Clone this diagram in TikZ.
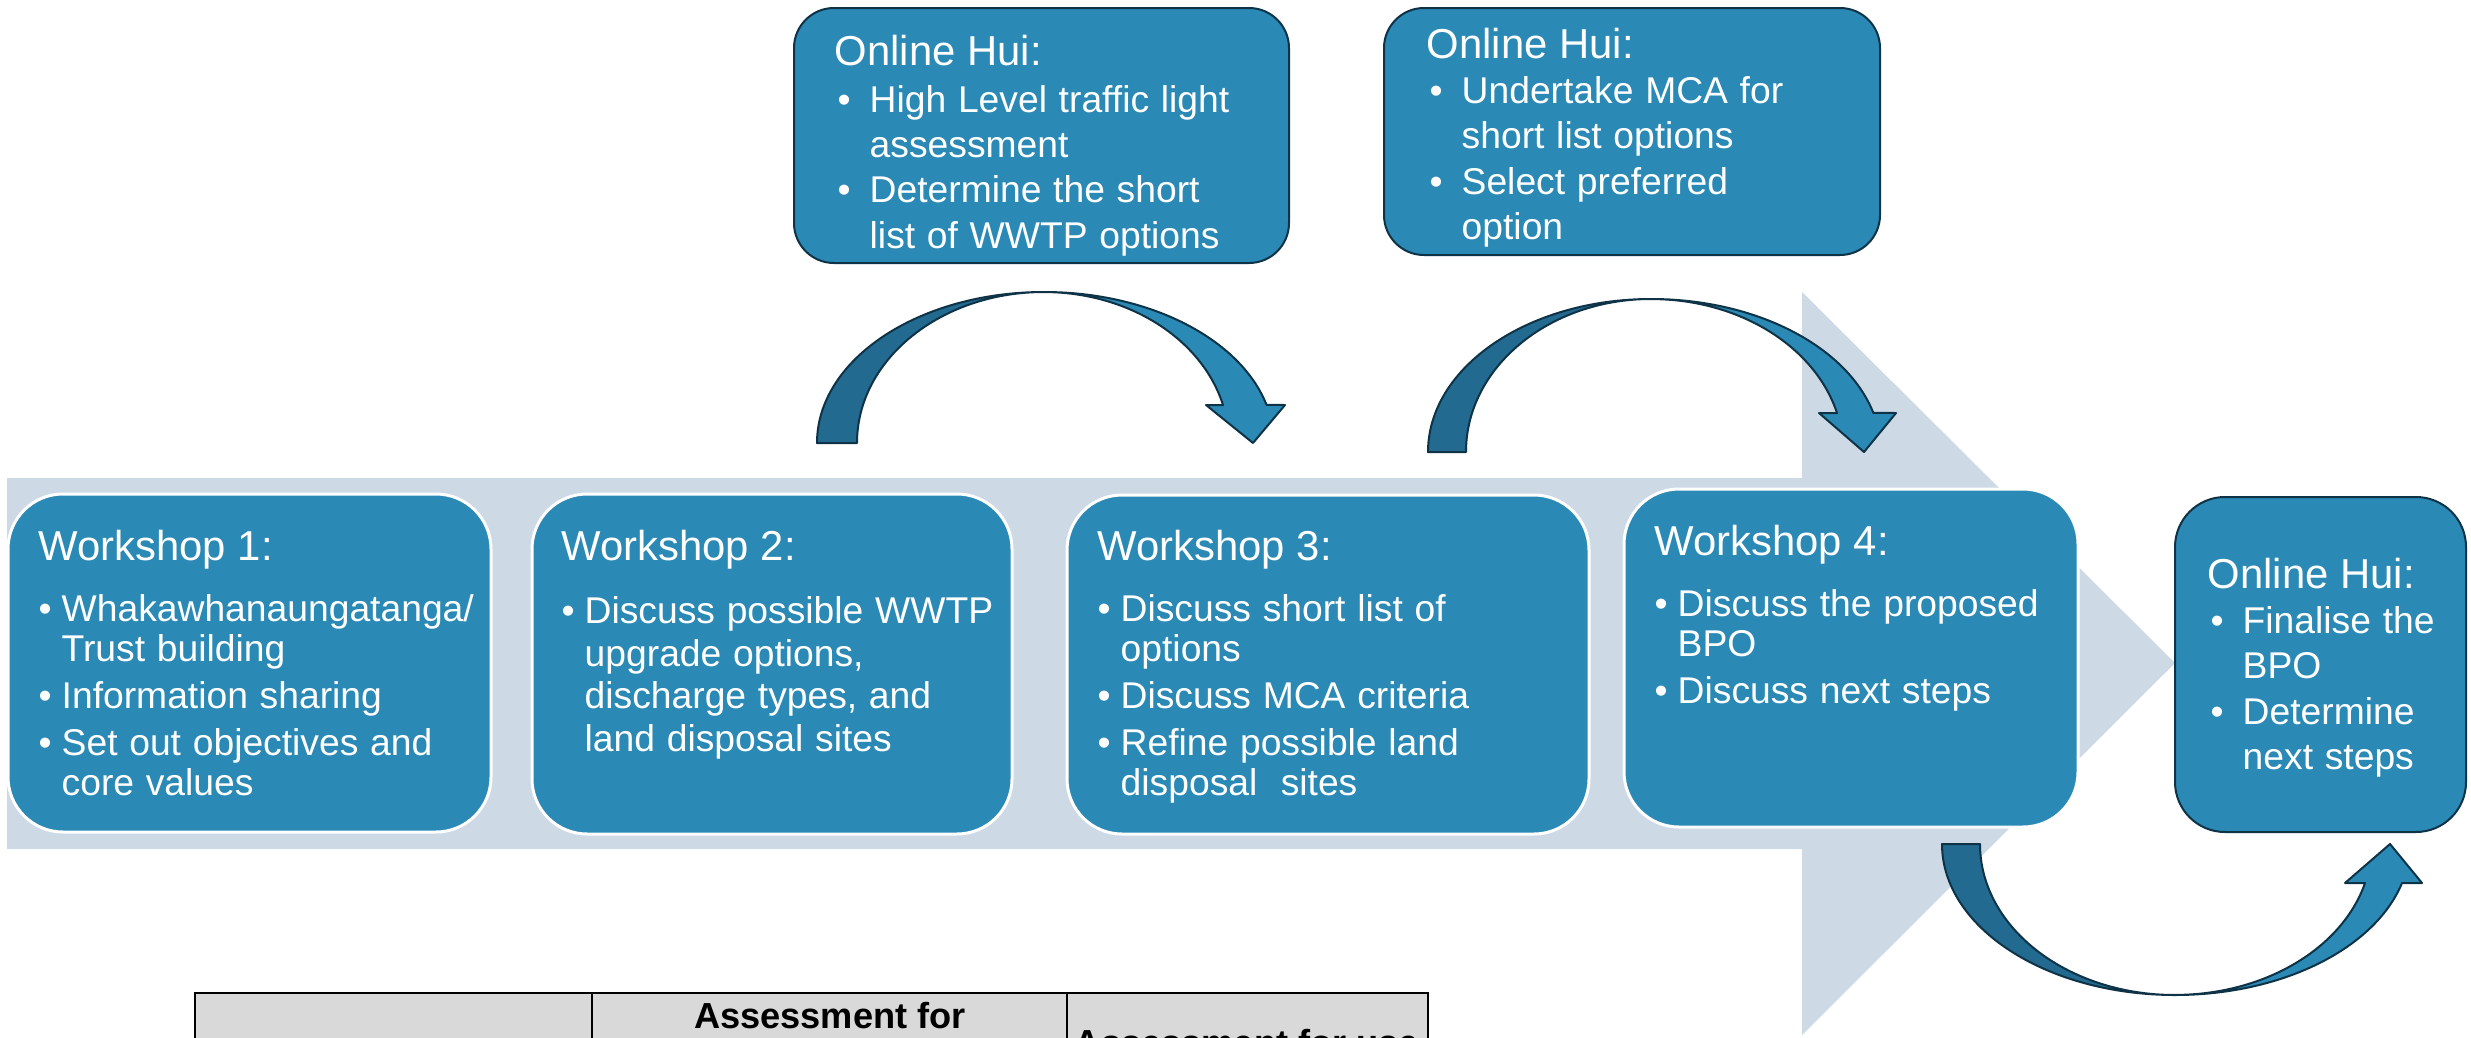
\documentclass[tikz,border=0pt]{standalone}
\usepackage{fontspec}
\setmainfont{Liberation Sans}
\usepackage{xcolor}
\usepackage{tikz}

\definecolor{boxblue}{HTML}{2B89B5}
\definecolor{arrowgrey}{HTML}{CDD9E4}
\definecolor{darkblue}{HTML}{236A90}
\definecolor{navyline}{HTML}{0E3347}
\definecolor{headgrey}{HTML}{D9D9D9}

\newcommand{\headfont}{\fontsize{11.9}{14}\selectfont}
\newcommand{\wsfont}{\fontsize{10.6}{11.4}\selectfont\setlength{\parskip}{2pt}}
\newcommand{\huifont}{\fontsize{10.6}{12.9}\selectfont\setlength{\parskip}{0pt}}
\newcommand{\wsitem}{\par\hangindent=2.3mm\hangafter=1\noindent\makebox[2.3mm][l]{\textbullet}}
\newcommand{\huiitem}{\par\hangindent=3.5mm\hangafter=1\noindent\makebox[3.5mm][l]{\hspace{0.3mm}\textbullet}}

\tikzset{
  wsbox/.style={draw=white, line width=0.3mm, fill=boxblue, rounded corners=5.5mm},
  huibox/.style={draw=navyline, line width=0.2mm, fill=boxblue, rounded corners=4mm},
  boxtext/.style={anchor=north west, inner sep=0pt, text=white, align=left},
  bentpart/.style={draw=navyline, line width=0.2mm, line join=round},
  tablehead/.style={anchor=base, inner sep=0pt, font=\fontsize{10.3}{12}\selectfont\bfseries}
}

\begin{document}
\begin{tikzpicture}[x=0.1mm, y=0.1mm]
        \useasboundingbox (0,0) rectangle (2471,1037);
        \clip (0,0) rectangle (2471,1037);
        % Big arrow
        \filldraw[fill=arrowgrey, draw=none]
          (7,559) -- (1802,559) -- (1802,745) -- (2175,374) -- (1802,2) -- (1802,188) -- (7,188) -- cycle;
        % Table header
        \filldraw[fill=headgrey, draw=black, line width=0.2mm] (195,44) rectangle (1428,-30);
        \draw[line width=0.2mm] (592,44) -- (592,-30) (1067,44) -- (1067,-30);
        \node[tablehead] (colb) at (830,9) {Assessment for};
        \node[tablehead] (colc) at (1247,-18) {Assessment for use};
        % Boxes
        \node[wsbox, minimum width=48.3mm, minimum height=33.8mm] (w1) at (249.5,374) {};
        \node[wsbox, minimum width=48mm, minimum height=34mm] (w2) at (772,373) {};
        \node[wsbox, minimum width=52.2mm, minimum height=33.9mm] (w3) at (1328,372.5) {};
        \node[wsbox, minimum width=45.4mm, minimum height=33.8mm] (w4) at (1851,379) {};
        \node[huibox, rounded corners=5mm, minimum width=29.1mm, minimum height=33.5mm] (hui3) at (2320.5,372.5) {};
        \node[huibox, minimum width=49.5mm, minimum height=25.5mm] (hui1) at (1041.5,901.5) {};
        \node[huibox, minimum width=49.6mm, minimum height=24.7mm] (hui2) at (1632,905.5) {};
        % Text
        \node[boxtext, text width=45mm] (w1txt) at (38,508) {%
          {\headfont Workshop 1:\par}\vspace{4pt}\wsfont
          \wsitem Whakawhanaungatanga/\newline Trust building
          \wsitem Information sharing
          \wsitem Set out objectives and\newline core values\par};
        \node[boxtext, text width=45mm] (w2txt) at (561,508) {%
          {\headfont Workshop 2:\par}\vspace{4pt}\wsfont\setlength{\baselineskip}{12.1pt}
          \wsitem Discuss possible WWTP\newline upgrade options,\newline discharge types, and\newline land disposal sites\par};
        \node[boxtext, text width=49mm] (w3txt) at (1097,508) {%
          {\headfont Workshop 3:\par}\vspace{4pt}\wsfont
          \wsitem Discuss short list of\newline options
          \wsitem Discuss MCA criteria
          \wsitem Refine possible land\newline disposal\ \ sites\par};
        \node[boxtext, text width=42mm] (w4txt) at (1654,513) {%
          {\headfont Workshop 4:\par}\vspace{4pt}\wsfont
          \wsitem Discuss the proposed\newline BPO
          \wsitem Discuss next steps\par};
        \node[boxtext, text width=45mm] (hui1txt) at (834,1003) {%
          {\headfont Online Hui:\par}\vspace{0.5pt}\huifont
          \huiitem High Level traffic light\newline assessment
          \huiitem Determine the short\newline list of WWTP options\par};
        \node[boxtext, text width=45mm] (hui2txt) at (1426,1010) {%
          {\headfont Online Hui:\par}\huifont
          \huiitem Undertake MCA for\newline short list options
          \huiitem Select preferred\newline option\par};
        \node[boxtext, text width=25.5mm] (hui3txt) at (2207,480) {%
          {\headfont Online Hui:\par}\huifont
          \huiitem Finalise the\newline BPO
          \huiitem Determine\newline next steps\par};
        % Curved arrow, workshop 1 and 2
        \filldraw[bentpart, fill=darkblue] (817,594)
          arc[start angle=180, end angle=90, x radius=227, y radius=151]
          arc[start angle=90, end angle=180, x radius=187, y radius=151] -- cycle;
        \filldraw[bentpart, fill=boxblue] (1044,745)
          arc[start angle=90, end angle=14.6, x radius=230, y radius=151]
          -- (1285,632) -- (1253,594) -- (1206,632) -- (1223,632)
          arc[start angle=14.6, end angle=90, x radius=185, y radius=151] -- cycle;
        % Curved arrow, workshop 3 and 4
        \filldraw[bentpart, fill=darkblue] (1428,585)
          arc[start angle=180, end angle=90, x radius=223, y radius=153]
          arc[start angle=90, end angle=180, x radius=185, y radius=153] -- cycle;
        \filldraw[bentpart, fill=boxblue] (1651,738)
          arc[start angle=90, end angle=14.8, x radius=230, y radius=153]
          -- (1896,624) -- (1864,585) -- (1819,624) -- (1837,624)
          arc[start angle=14.8, end angle=90, x radius=192, y radius=153] -- cycle;
        % Curved arrow, workshop 4 to last hui
        \filldraw[bentpart, fill=darkblue] (1942,193)
          arc[start angle=180, end angle=270, x radius=233, y radius=151]
          arc[start angle=270, end angle=180, x radius=195, y radius=151] -- cycle;
        \filldraw[bentpart, fill=boxblue] (2175,42)
          arc[start angle=270, end angle=345, x radius=235, y radius=151]
          -- (2422,154) -- (2390,193) -- (2345,154) -- (2365,154)
          arc[start angle=345, end angle=270, x radius=197, y radius=151] -- cycle;
      \end{tikzpicture}
\end{document}
